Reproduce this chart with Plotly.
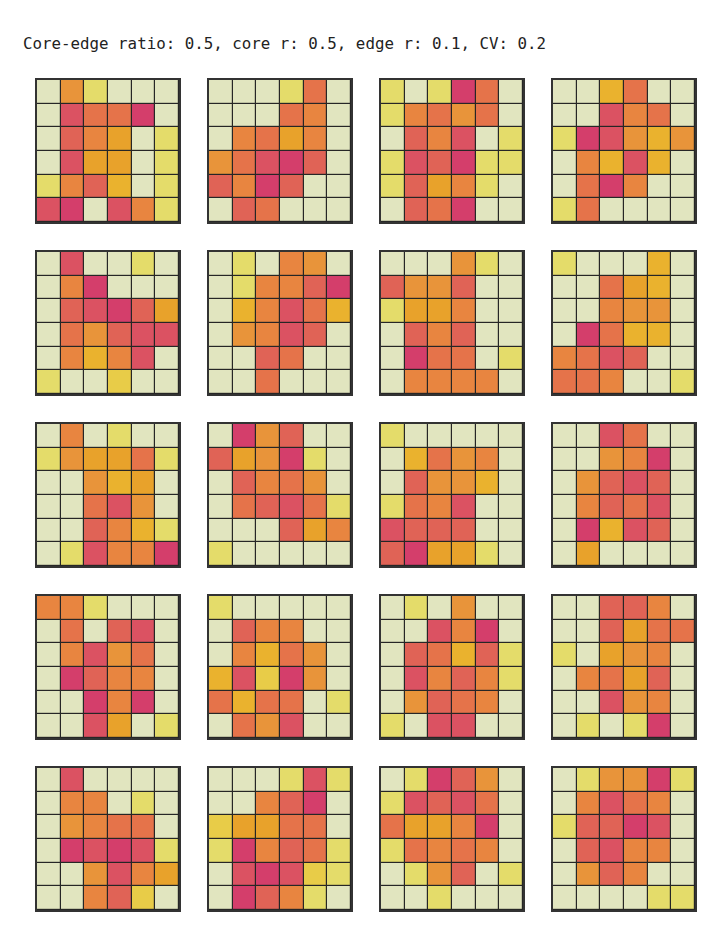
import plotly.graph_objects as go

title_text = "Core-edge ratio: 0.5, core r: 0.5, edge r: 0.1, CV: 0.2"

# category codes -> colour
level_codes = ["P", "Y", "y", "G", "A", "O", "o", "R", "r", "K", "M"]
level_colors = ["#e1e5bf", "#e4dc6a", "#e8cc48", "#eab22e", "#e8a22b", "#e8943a",
                "#e88540", "#e5734a", "#e06356", "#db5262", "#d43e6b"]

# panels, row-major (5 rows x 4 columns); each string is one grid row, top first
panel_1_1 = ["POYPPP", "PKRRMP", "ProAPY", "PKAAPY", "YorGPY", "KMPKoY"]
panel_1_2 = ["PPPYRP", "PPPRoP", "PoRAoP", "ORKMrP", "roMrPP", "PrRPPP"]
panel_1_3 = ["YPYMRP", "YoRORP", "ProKPY", "YKrMYY", "YrAoYP", "PrRMPP"]
panel_1_4 = ["PPGRPP", "PPKoRP", "YMKOGO", "PoGKGP", "PRMoPP", "YRPPPP"]
panel_2_1 = ["PKPPYP", "PoMPPP", "PrKMrA", "PROrKK", "PoGoKP", "YPPyPP"]
panel_2_2 = ["PYPoOP", "PYoorM", "PGoKRG", "POoKrP", "PPrRPP", "PPRPPP"]
panel_2_3 = ["PPPOYP", "rOOrPP", "YAAoPP", "ProrPP", "PMRRPY", "PooooP"]
panel_2_4 = ["YPPPGP", "PPRAGP", "PPoOOP", "PMRGGP", "oRKrPP", "RRoPPY"]
panel_3_1 = ["PoPYPP", "YOAARY", "PPOGAP", "PPRKOP", "PProGY", "PYKooM"]
panel_3_2 = ["PMOrPP", "rAOMYP", "ProROP", "PRrKRY", "PPPrAo", "YPPPPP"]
panel_3_3 = ["YPPPPP", "PGROoP", "PrOOGP", "YRoKPP", "KrrrPP", "rMAAYP"]
panel_3_4 = ["PPKRPP", "PPOoMP", "POrKrP", "PorRKP", "PMGKrP", "PAPPPP"]
panel_4_1 = ["ooYPPP", "PRPrKP", "PoKORP", "PMrooP", "PPMoMP", "PPKAPY"]
panel_4_2 = ["YPPPPP", "ProoPP", "PoGROP", "GKyMOP", "RGRRPY", "PROKPP"]
panel_4_3 = ["PYPOPP", "PPKoMP", "PrRGrY", "PKoroY", "POrRoP", "YPKKPP"]
panel_4_4 = ["PPrroP", "PPrARR", "YPAOoP", "PoRArP", "PPKOoP", "PYPYMP"]
panel_5_1 = ["PKPPPP", "PooPYP", "POoRRP", "PMKMKY", "PPOKoA", "PPoryP"]
panel_5_2 = ["PPPYKY", "PPorMP", "yAARRP", "YMorRY", "PKMKyY", "PMroYP"]
panel_5_3 = ["PYMrOP", "YKrKRP", "RAAoMP", "YRoRoP", "PYOrPY", "PPYPPP"]
panel_5_4 = ["PYOOMY", "PoKRoP", "YrrMKP", "PrKooP", "POroPP", "PPPPYY"]

panels = [
    [panel_1_1, panel_1_2, panel_1_3, panel_1_4],
    [panel_2_1, panel_2_2, panel_2_3, panel_2_4],
    [panel_3_1, panel_3_2, panel_3_3, panel_3_4],
    [panel_4_1, panel_4_2, panel_4_3, panel_4_4],
    [panel_5_1, panel_5_2, panel_5_3, panel_5_4],
]

W, H = 725, 950
col_px = [(37, 179), (209, 351), (381, 523), (553, 695)]
row_px = [(80, 222), (252, 394), (424, 566), (596, 738), (768, 910)]

n = len(level_colors)
colorscale = []
for i, c in enumerate(level_colors):
    colorscale.append([i / n, c])
    colorscale.append([(i + 1) / n, c])

fig = go.Figure()
k = 0
for r, prow in enumerate(panels):
    for c, grid in enumerate(prow):
        k += 1
        z = [[level_codes.index(ch) for ch in line] for line in grid]
        xa = "x" if k == 1 else f"x{k}"
        ya = "y" if k == 1 else f"y{k}"
        fig.add_trace(go.Heatmap(
            z=z, x=list(range(6)), y=list(range(6)),
            colorscale=colorscale, zmin=-0.5, zmax=n - 0.5,
            showscale=False, xgap=1.2, ygap=1.2, hoverinfo="skip",
            xaxis=xa, yaxis=ya))
        x0, x1 = col_px[c]
        y0, y1 = row_px[r]
        axx = dict(domain=[x0 / W, x1 / W], range=[-0.5, 5.5], showgrid=False,
                   zeroline=False, showticklabels=False, ticks="",
                   showline=True, mirror=True, linecolor="#333333", linewidth=2,
                   anchor=ya, fixedrange=True)
        axy = dict(domain=[1 - y1 / H, 1 - y0 / H], range=[5.5, -0.5], showgrid=False,
                   zeroline=False, showticklabels=False, ticks="",
                   showline=True, mirror=True, linecolor="#333333", linewidth=2,
                   anchor=xa, fixedrange=True)
        fig.layout["xaxis" if k == 1 else f"xaxis{k}"] = axx
        fig.layout["yaxis" if k == 1 else f"yaxis{k}"] = axy

fig.add_annotation(text=title_text, xref="paper", yref="paper",
                   x=21 / W, y=1 - 44 / H, xanchor="left", yanchor="middle",
                   showarrow=False,
                   font=dict(family="DejaVu Sans Mono", size=15.8, color="#222222"))

fig.update_layout(width=W, height=H, margin=dict(l=0, r=0, t=0, b=0),
                  paper_bgcolor="white", plot_bgcolor="#262626",
                  showlegend=False)

fig.write_html("out.html")
